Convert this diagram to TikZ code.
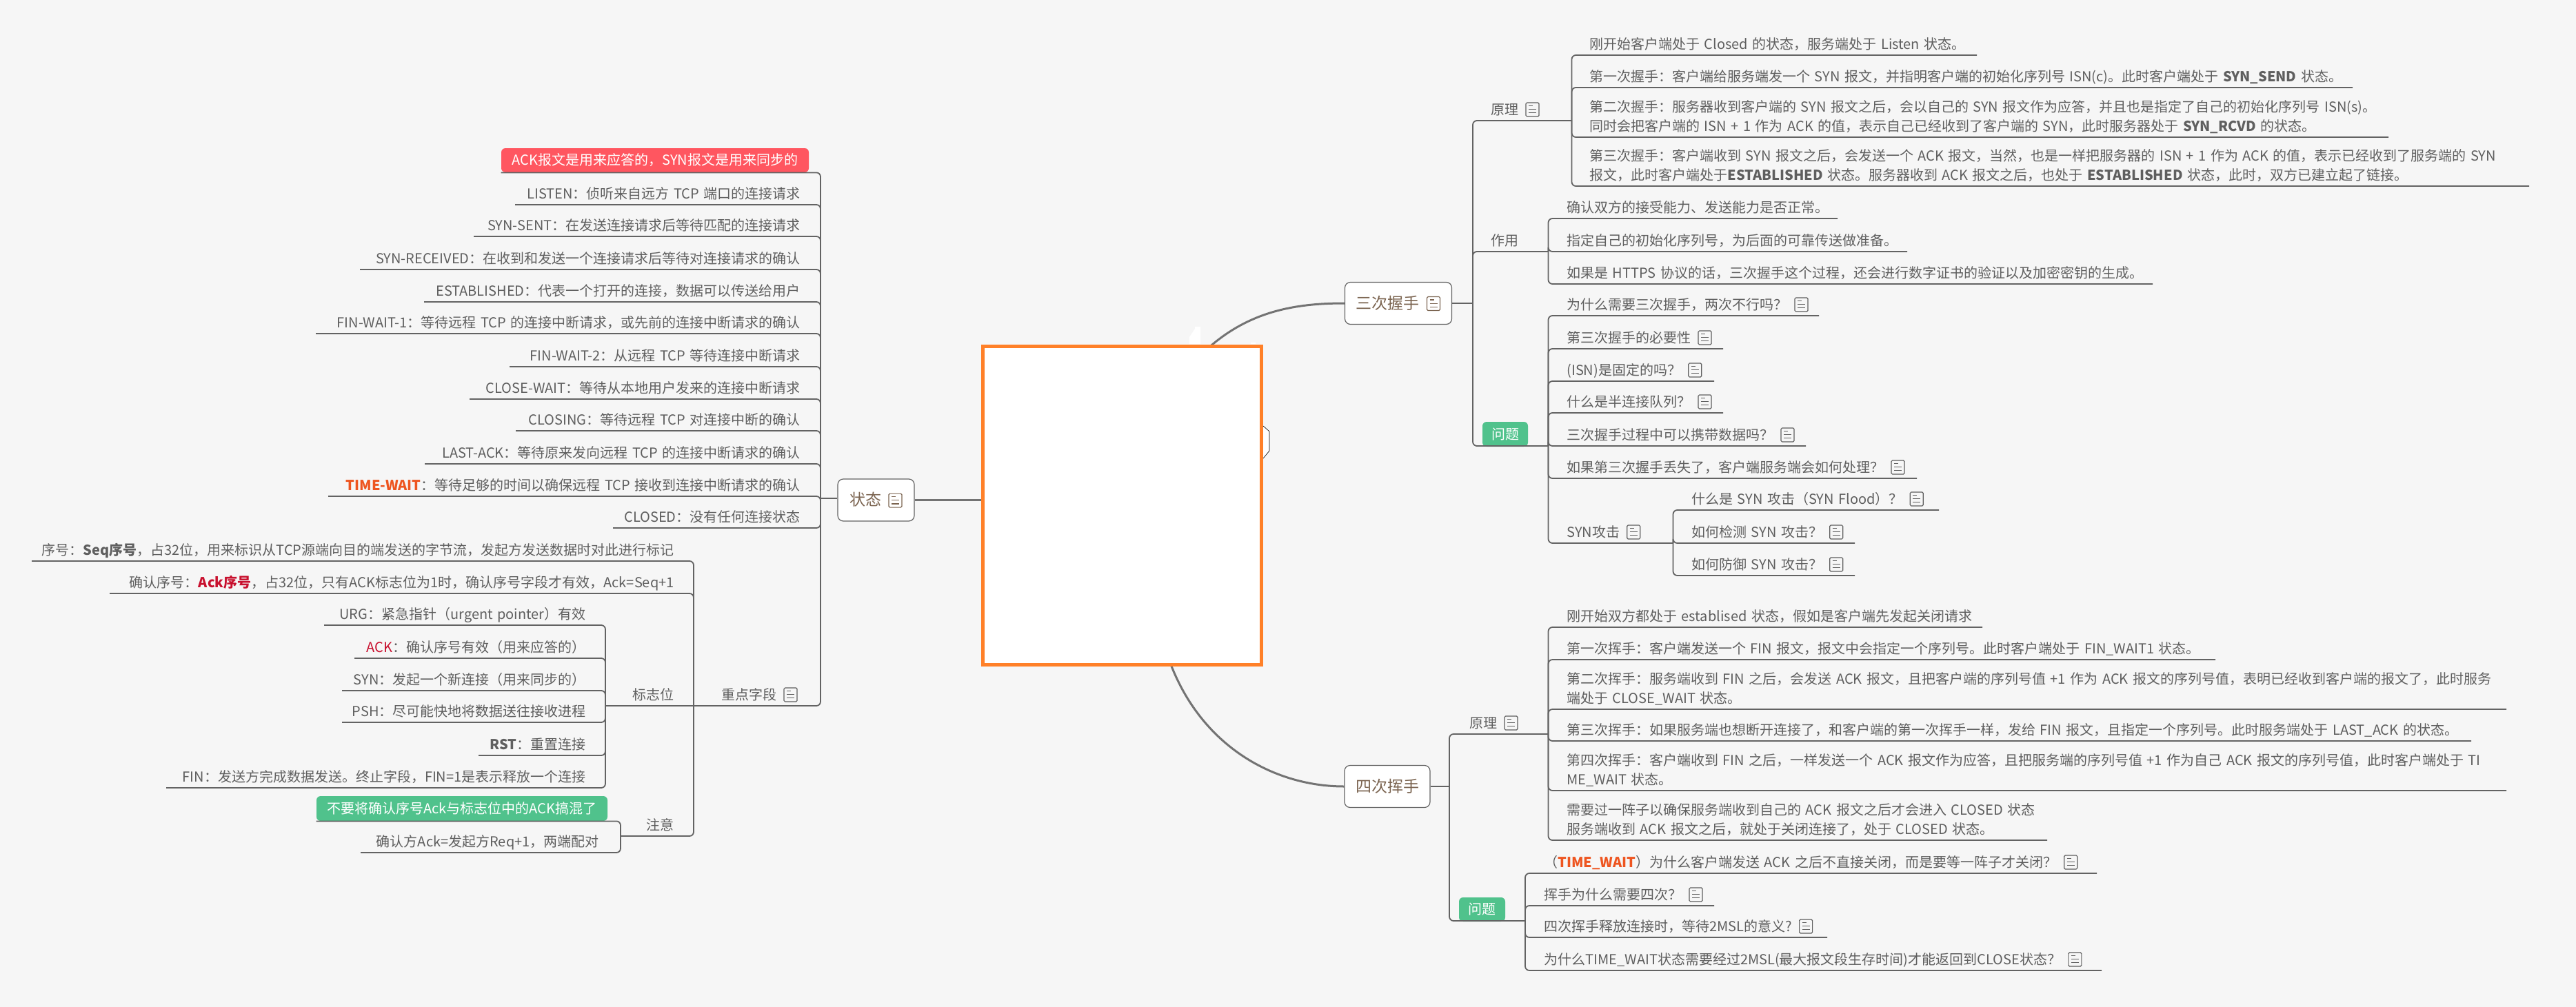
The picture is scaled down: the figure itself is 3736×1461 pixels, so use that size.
\documentclass[tikz,border=0pt]{standalone}
\usepackage{fontspec}
\setmainfont[WordSpace=1.45]{Noto Sans CJK SC}
\definecolor{paper}{HTML}{F6F6F6}
\definecolor{ink}{HTML}{5F5F5F}
\definecolor{wire}{HTML}{636363}
\definecolor{bark}{HTML}{7B6450}
\definecolor{tangerine}{HTML}{FF8028}
\definecolor{coral}{HTML}{FF5660}
\definecolor{mint}{HTML}{50C28C}
\definecolor{hot}{HTML}{EE5520}
\definecolor{crim}{HTML}{C8102E}
\newcommand{\noteic}{\hspace{5pt}\tikz[baseline=-3.8pt,x=1pt,y=1pt,line width=0.6pt]{
  \draw[color=.,rounded corners=0.8pt] (0,-5) rectangle (9.5,5);
  \draw[color=.] (2,2.8) -- (5,2.8) (2,0.2) -- (7.5,0.2) (2,-2.4) -- (7.5,-2.4);}}
\newcommand{\hotb}[1]{\textcolor{hot}{\textbf{#1}}}
\begin{document}
\begin{tikzpicture}[x=0.5pt,y=-0.5pt,
  leafr/.style={anchor=south west, inner sep=0pt, text=ink, align=left, text depth=4pt, font=\fontsize{10}{14}\selectfont},
  leafl/.style={anchor=south east, inner sep=0pt, text=ink, align=right, text depth=4pt, font=\fontsize{10}{14}\selectfont},
  link/.style={draw=wire, line width=0.9pt, rounded corners=3pt},
  trunk/.style={draw=wire!90, line width=1.5pt},
  branch/.style={draw=wire, line width=0.6pt, fill=white, rounded corners=4pt, inner sep=0pt, minimum height=30.5pt, text=bark, font=\fontsize{11.5}{14}\selectfont},
  tag/.style={rounded corners=3pt, inner sep=0pt, text=white, font=\fontsize{10}{14}\selectfont}]
  \fill[paper] (0,0) rectangle (3736,1461);
  \useasboundingbox (0,0) rectangle (3736,1461);
  % centre and main branches
  \node[fill=white, inner sep=0pt, outer sep=0pt, minimum width=202pt, minimum height=231.25pt] (centre) at (1627.5,733.25) {};
  \node[branch, minimum width=77.5pt] (threeway) at (2028,440) {三次握手\noteic};
  \node[branch, minimum width=62pt] (fourway) at (2012,1141) {四次挥手};
  \node[branch, minimum width=55.5pt] (state) at (1270.5,725.5) {状态\noteic};
  \draw[trunk] (centre.61) .. controls (1815,451) and (1880,440) .. (threeway.west);
  \draw[trunk] (centre.-73) .. controls (1745,1085) and (1850,1141) .. (fourway.west);
  \draw[trunk] (state.east) -- (state.east -| centre.west);
  % what is left of the hidden picture round the centre
  \fill[white] (1725,489) -- (1733,477) -- (1733,474) -- (1741,474) -- (1741,499) -- (1725,499) -- cycle;
  \fill[white] (1814,497) rectangle (1821,499);
  \draw[black, line width=0.3pt, fill=white] (1832,618) -- (1841,626) -- (1841,654) -- (1832,665);
  \draw[draw=tangerine, line width=2.5pt] (centre.north west) rectangle (centre.south east);
  % state list on the left
  \coordinate (hs) at (1190,723);
  \draw[link] (hs) -- (hs -| state.west);
  \node[tag, fill=coral, minimum width=223pt, minimum height=17.5pt] (rednote) at (950,232.5) {ACK报文是用来应答的，SYN报文是用来同步的};
  \draw[link] (rednote.south west) -| (hs);
  \foreach \i/\yy/\xx/\txt in {
    1/297/747/{LISTEN：侦听来自远方 TCP 端口的连接请求},
    2/343/687/{SYN-SENT：在发送连接请求后等待匹配的连接请求},
    3/391/522/{SYN-RECEIVED：在收到和发送一个连接请求后等待对连接请求的确认},
    4/438/615/{ESTABLISHED：代表一个打开的连接，数据可以传送给用户},
    5/484/458/{FIN-WAIT-1：等待远程 TCP 的连接中断请求，或先前的连接中断请求的确认},
    6/532/739/{FIN-WAIT-2：从远程 TCP 等待连接中断请求},
    7/579/681/{CLOSE-WAIT：等待从本地用户发来的连接中断请求},
    8/625/748/{CLOSING：等待远程 TCP 对连接中断的确认},
    9/673/616/{LAST-ACK：等待原来发向远程 TCP 的连接中断请求的确认},
    10/720/476/{\hotb{TIME-WAIT}：等待足够的时间以确保远程 TCP 接收到连接中断请求的确认},
    11/766/889/{CLOSED：没有任何连接状态}} {
    \node[leafl] (s\i) at (1161,\yy) {\txt};
    \coordinate (se\i) at (\xx,\yy);
    \draw[link] (se\i) -| (hs);
  }
  % key fields
  \coordinate (hk) at (1006,1024);
  \node[leafl] (keyf) at (1157,1024) {重点字段\noteic};
  \draw[link] (hk) -| (hs);
  \foreach \i/\yy/\xx/\txt in {
    1/814/46/{序号：\textbf{Seq序号}，占32位，用来标识从TCP源端向目的端发送的字节流，发起方发送数据时对此进行标记},
    2/861/159/{确认序号：\textcolor{crim}{\textbf{Ack序号}}，占32位，只有ACK标志位为1时，确认序号字段才有效，Ack=Seq+1}} {
    \node[leafl] (k\i) at (978,\yy) {\txt};
    \coordinate (ke\i) at (\xx,\yy);
    \draw[link] (ke\i) -| (hk);
  }
  % flags
  \coordinate (hf) at (878,1024);
  \node[leafl] (flags) at (978,1024) {标志位};
  \draw[link] (hf) -- (hk);
  \foreach \i/\yy/\xx/\txt in {
    1/907/470/{URG：紧急指针（urgent pointer）有效},
    2/955/514/{\textcolor{crim}{ACK}：确认序号有效（用来应答的）},
    3/1002/496/{SYN：发起一个新连接（用来同步的）},
    4/1048/496/{PSH：尽可能快地将数据送往接收进程},
    5/1096/694/{\textbf{RST}：重置连接},
    6/1143/241/{FIN：发送方完成数据发送。终止字段，FIN=1是表示释放一个连接}} {
    \node[leafl] (f\i) at (850,\yy) {\txt};
    \coordinate (fe\i) at (\xx,\yy);
    \draw[link] (fe\i) -| (hf);
  }
  % notes
  \coordinate (hn) at (900,1213);
  \node[leafl] (notes) at (978,1213) {注意};
  \draw[link] (hn) -| (hk);
  \node[tag, fill=mint, minimum width=211pt, minimum height=18pt] (greennote) at (670,1173) {不要将确认序号Ack与标志位中的ACK搞混了};
  \draw[link] (greennote.south west) -| (hn);
  \node[leafl] (n2) at (869,1237) {确认方Ack=发起方Req+1，两端配对};
  \coordinate (ne2) at (523,1237);
  \draw[link] (ne2) -| (hn);
  % three-way handshake
  \coordinate (ht) at (2136,440);
  \draw[link] (threeway.east) -- (ht);
  \coordinate (hp) at (2279.5,175);
  \node[leafr] (pr) at (2162,175) {原理\noteic};
  \draw[link] (hp) -| (ht);
  \foreach \i/\yy/\xx/\txt in {
    1/80/2867/{刚开始客户端处于 Closed 的状态，服务端处于 Listen 状态。},
    2/127/3412/{第一次握手：客户端给服务端发一个 SYN 报文，并指明客户端的初始化序列号 ISN(c)。此时客户端处于 \textbf{SYN\_SEND} 状态。},
    3/199/3464/{第二次握手：服务器收到客户端的 SYN 报文之后，会以自己的 SYN 报文作为应答，并且也是指定了自己的初始化序列号 ISN(s)。\\同时会把客户端的 ISN + 1 作为 ACK 的值，表示自己已经收到了客户端的 SYN，此时服务器处于 \textbf{SYN\_RCVD} 的状态。},
    4/270/3668/{第三次握手：客户端收到 SYN 报文之后，会发送一个 ACK 报文，当然，也是一样把服务器的 ISN + 1 作为 ACK 的值，表示已经收到了服务端的 SYN\\报文，此时客户端处于\textbf{ESTABLISHED} 状态。服务器收到 ACK 报文之后，也处于 \textbf{ESTABLISHED} 状态，此时，双方已建立起了链接。}} {
    \node[leafr] (p\i) at (2305,\yy) {\txt};
    \coordinate (pe\i) at (\xx,\yy);
    \draw[link] (pe\i) -| (hp);
  }
  \coordinate (hu) at (2245.5,365);
  \node[leafr] (use) at (2162,365) {作用};
  \draw[link] (hu) -| (ht);
  \foreach \i/\yy/\xx/\txt in {
    1/317/2665/{确认双方的接受能力、发送能力是否正常。},
    2/365/2766/{指定自己的初始化序列号，为后面的可靠传送做准备。},
    3/412/3122/{如果是 HTTPS 协议的话，三次握手这个过程，还会进行数字证书的验证以及加密密钥的生成。}} {
    \node[leafr] (u\i) at (2272,\yy) {\txt};
    \coordinate (ue\i) at (\xx,\yy);
    \draw[link] (ue\i) -| (hu);
  }
  \coordinate (hq) at (2245.5,647);
  \node[tag, fill=mint, minimum width=33pt, minimum height=18pt] (ask) at (2183,630) {问题};
  \draw[link] (hq) -| (ht);
  \foreach \i/\yy/\xx/\txt in {
    1/458/2638/{为什么需要三次握手，两次不行吗？\noteic},
    2/506/2499/{第三次握手的必要性\noteic},
    3/553/2486/{(ISN)是固定的吗？\noteic},
    4/599/2499/{什么是半连接队列？\noteic},
    5/647/2619/{三次握手过程中可以携带数据吗？\noteic},
    6/694/2780/{如果第三次握手丢失了，客户端服务端会如何处理？\noteic}} {
    \node[leafr] (q\i) at (2272,\yy) {\txt};
    \coordinate (qe\i) at (\xx,\yy);
    \draw[link] (qe\i) -| (hq);
  }
  \coordinate (hy) at (2426.5,788);
  \node[leafr] (syn) at (2272,788) {SYN攻击\noteic};
  \draw[link] (hy) -| (hq);
  \foreach \i/\yy/\xx/\txt in {
    1/740/2812/{什么是 SYN 攻击（SYN Flood）？\noteic},
    2/788/2690/{如何检测 SYN 攻击？\noteic},
    3/835/2690/{如何防御 SYN 攻击？\noteic}} {
    \node[leafr] (y\i) at (2453,\yy) {\txt};
    \coordinate (ye\i) at (\xx,\yy);
    \draw[link] (ye\i) -| (hy);
  }
  % four-way handshake
  \coordinate (hw) at (2102,1141);
  \draw[link] (fourway.east) -- (hw);
  \coordinate (hr) at (2245.5,1065);
  \node[leafr] (pr2) at (2131,1065) {原理\noteic};
  \draw[link] (hr) -| (hw);
  \foreach \i/\yy/\xx/\txt in {
    1/910/2875/{刚开始双方都处于 establised 状态，假如是客户端先发起关闭请求},
    2/957/3213/{第一次挥手：客户端发送一个 FIN 报文，报文中会指定一个序列号。此时客户端处于 FIN\_WAIT1 状态。},
    3/1029/3635/{第二次挥手：服务端收到 FIN 之后，会发送 ACK 报文，且把客户端的序列号值 +1 作为 ACK 报文的序列号值，表明已经收到客户端的报文了，此时服务\\端处于 CLOSE\_WAIT 状态。},
    4/1075/3584/{第三次挥手：如果服务端也想断开连接了，和客户端的第一次挥手一样，发给 FIN 报文，且指定一个序列号。此时服务端处于 LAST\_ACK 的状态。},
    5/1147/3635/{第四次挥手：客户端收到 FIN 之后，一样发送一个 ACK 报文作为应答，且把服务端的序列号值 +1 作为自己 ACK 报文的序列号值，此时客户端处于 TI\\ME\_WAIT 状态。},
    6/1219/2969/{需要过一阵子以确保服务端收到自己的 ACK 报文之后才会进入 CLOSED 状态\\服务端收到 ACK 报文之后，就处于关闭连接了，处于 CLOSED 状态。}} {
    \node[leafr] (r\i) at (2272,\yy) {\txt};
    \coordinate (re\i) at (\xx,\yy);
    \draw[link] (re\i) -| (hr);
  }
  \coordinate (hz) at (2212,1336);
  \node[tag, fill=mint, minimum width=33.5pt, minimum height=17.5pt] (ask2) at (2149.5,1319.5) {问题};
  \draw[link] (hz) -| (hw);
  \foreach \i/\yy/\xx/\txt in {
    1/1267/3041/{（\hotb{TIME\_WAIT}）为什么客户端发送 ACK 之后不直接关闭，而是要等一阵子才关闭？\noteic},
    2/1314/2486/{挥手为什么需要四次？\noteic},
    3/1360/2650/{四次挥手释放连接时，等待2MSL的意义?\noteic},
    4/1408/3048/{为什么TIME\_WAIT状态需要经过2MSL(最大报文段生存时间)才能返回到CLOSE状态？\noteic}} {
    \node[leafr] (z\i) at (2239,\yy) {\txt};
    \coordinate (ze\i) at (\xx,\yy);
    \draw[link] (ze\i) -| (hz);
  }
\end{tikzpicture}
\end{document}
